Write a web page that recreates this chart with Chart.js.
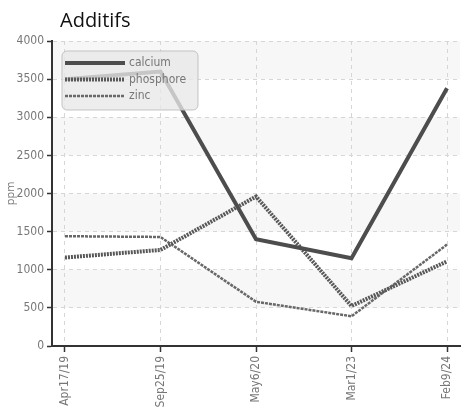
<!DOCTYPE html>
<html><head><meta charset="utf-8">
<script src="https://cdn.jsdelivr.net/npm/chart.js@4/dist/chart.umd.min.js"></script>
<style>
html,body{margin:0;padding:0;background:#fff;}
#wrap{position:relative;width:468px;height:411px;}
#title{position:absolute;left:60px;top:8px;font-family:"Open Sans",sans-serif;font-size:20px;line-height:24px;color:#111;}
</style></head>
<body><div id="wrap"><div id="title">Additifs</div><canvas id="c" width="468" height="411"></canvas></div>
<script>
const dates = ["Apr17/19","Sep25/19","May6/20","Mar1/23","Feb9/24"];
const calcium = [3500, 3600, 1400, 1150, 3380];
const phosphore = [1160, 1260, 1960, 525, 1110];
const zinc = [1440, 1430, 580, 390, 1330];
const yTicks = [0,500,1000,1500,2000,2500,3000,3500,4000];

const tickFont = {family: "'DejaVu Sans Condensed','Roboto',sans-serif", size: 12};
const toXY = arr => arr.map((v,i)=>({x:i,y:v}));

const bandsUnder = {
  id:'bandsUnder',
  beforeDraw(chart){
    const {ctx, chartArea:a, scales:{y}} = chart;
    ctx.save();
    ctx.fillStyle = '#f7f7f7';
    for (let i=1;i<yTicks.length-1;i+=2){
      const y0 = y.getPixelForValue(yTicks[i]);
      const y1 = y.getPixelForValue(yTicks[i+1]);
      ctx.fillRect(a.left, y1, a.right-a.left, y0-y1);
    }
    ctx.restore();
  }
};
const overlayLegend = {
  id:'overlayLegend',
  afterDatasetsDraw(chart){
    const ctx = chart.ctx; const a = chart.chartArea;
    const x = a.left+10, y = a.top+10, w = 136, h = 59, r = 5;
    ctx.save();
    ctx.beginPath();
    ctx.roundRect(x,y,w,h,r);
    ctx.fillStyle = 'rgba(232,232,232,0.78)';
    ctx.fill();
    ctx.strokeStyle = 'rgba(190,190,190,0.9)';
    ctx.lineWidth = 1;
    ctx.stroke();
    chart.data.datasets.forEach((ds,i)=>{
      const ly = y + 12 + i*16.5;
      ctx.beginPath();
      ctx.setLineDash(ds.borderDash||[]);
      ctx.lineWidth = ds.borderWidth;
      ctx.strokeStyle = ds.borderColor;
      ctx.moveTo(x+3, ly); ctx.lineTo(x+63, ly); ctx.stroke();
      ctx.setLineDash([]);
      ctx.fillStyle = '#777';
      ctx.font = "12px 'DejaVu Sans Condensed','Roboto',sans-serif";
      ctx.textBaseline = 'middle';
      ctx.fillText(ds.label, x+67, ly);
    });
    ctx.restore();
  }
};

new Chart(document.getElementById('c'), {
  type:'line',
  data:{
    datasets:[
      {label:'calcium', data:toXY(calcium), borderColor:'#4d4d4d', borderWidth:4, borderDash:[], pointRadius:0, tension:0, fill:false},
      {label:'phosphore', data:toXY(phosphore), borderColor:'#585858', borderWidth:4, borderDash:[2,1], pointRadius:0, tension:0, fill:false},
      {label:'zinc', data:toXY(zinc), borderColor:'#686868', borderWidth:2.5, borderDash:[3,1], pointRadius:0, tension:0, fill:false}
    ]
  },
  options:{
    responsive:false, animation:false,
    layout:{padding:{top:41,right:8,left:4,bottom:0}},
    plugins:{legend:{display:false}, title:{display:false}, tooltip:{enabled:false}},
    scales:{
      x:{type:'linear', min:-0.136, max:4.136,
        ticks:{stepSize:1, includeBounds:false, autoSkip:false, maxRotation:90, minRotation:90, color:'#777', font:tickFont, padding:4,
          callback:(v)=>dates[v]},
        grid:{color:'#d6d6d6', tickColor:'#333', tickLength:6, tickBorderDash:[], tickWidth:1.5},
        border:{color:'#333', width:2, dash:[4,4]},
        afterFit:(s)=>{s.height = 65;}
      },
      y:{min:0, max:4000,
        afterBuildTicks:(s)=>{s.ticks = yTicks.map(v=>({value:v}));},
        ticks:{color:'#777', font:tickFont, padding:3, callback:(v)=>String(v)},
        grid:{color:'#d6d6d6', tickColor:'#333', tickLength:5, tickBorderDash:[], tickWidth:1.5},
        border:{color:'#333', width:2, dash:[4,4]},
        title:{display:true, text:'ppm', color:'#777', font:{family:"'Open Sans',sans-serif", size:11}, padding:{top:0,bottom:2}},
        afterFit:(s)=>{s.width = 48;}
      }
    }
  },
  plugins:[bandsUnder, overlayLegend]
});
</script></body></html>
